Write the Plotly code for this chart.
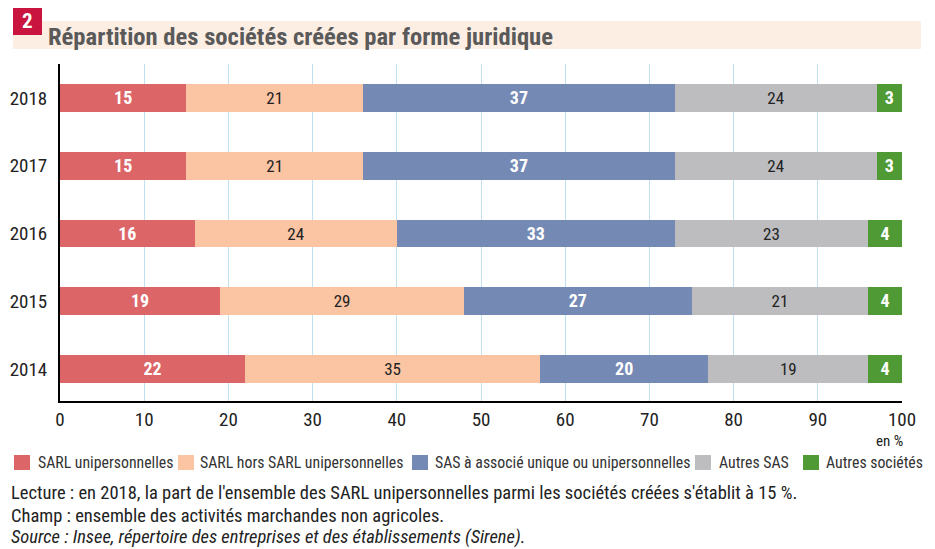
import plotly.graph_objects as go

# data
years = ["2014", "2015", "2016", "2017", "2018"]
series_names = [
    "SARL unipersonnelles",
    "SARL hors SARL unipersonnelles",
    "SAS à associé unique ou unipersonnelles",
    "Autres SAS",
    "Autres sociétés",
]
sarl_uni = [22, 19, 16, 15, 15]
sarl_hors = [35, 29, 24, 21, 21]
sas_uni = [20, 27, 33, 37, 37]
autres_sas = [19, 21, 23, 24, 24]
autres_soc = [4, 4, 4, 3, 3]
x_ticks = [0, 10, 20, 30, 40, 50, 60, 70, 80, 90, 100]

values = [sarl_uni, sarl_hors, sas_uni, autres_sas, autres_soc]
colors = ["#DC6567", "#FBC4A2", "#7589B5", "#BDBDC0", "#4F9A35"]
text_styles = [
    dict(color="white", size=19, weight="bold"),
    dict(color="#222222", size=17),
    dict(color="white", size=19, weight="bold"),
    dict(color="#222222", size=17),
    dict(color="white", size=19, weight="bold"),
]
FONT = "Roboto Condensed, Arial Narrow, sans-serif"

# the page body has an 8px margin, so the figure is drawn 8px in from the corner
W, H = 927, 541
L, R, T, B = 52, 33, 56, 148
PW, PH = W - L - R, H - T - B


def px(x):
    # x in reference pixels -> paper coordinate
    return (x - 8 - L) / PW


def py(y):
    # y in reference pixels -> paper coordinate
    return (H - B - (y - 8)) / PH


fig = go.Figure()
for name, vals, col, ts in zip(series_names, values, colors, text_styles):
    fig.add_trace(go.Bar(
        y=years, x=vals, name=name, orientation="h",
        marker=dict(color=col, line=dict(width=0)),
        text=[str(v) for v in vals], textposition="inside",
        insidetextanchor="middle", textangle=0,
        textfont=dict(family=FONT, **ts),
        width=0.41, showlegend=False, hoverinfo="x+name",
    ))

fig.update_layout(
    barmode="stack",
    width=W, height=H,
    margin=dict(l=L, r=R, t=T, b=B),
    paper_bgcolor="white", plot_bgcolor="white",
    font=dict(family=FONT, color="#222222"),
    xaxis=dict(
        range=[0, 100], tickvals=x_ticks, showgrid=True, gridcolor="#BFE0F2",
        gridwidth=1, zeroline=False, showline=True, linecolor="black", linewidth=2,
        ticks="", tickfont=dict(size=19, color="#222222"), fixedrange=True,
        automargin=False,
    ),
    yaxis=dict(
        type="category", range=[-0.47, 4.5], showgrid=False, zeroline=False,
        showline=True, linecolor="black", linewidth=2, ticks="",
        tickfont=dict(size=19, color="#222222"), ticklabelstandoff=7,
        automargin=False,
    ),
    showlegend=False,
)

# title band and number box
fig.add_shape(type="rect", xref="paper", yref="paper",
              x0=px(13), x1=px(921), y0=py(49), y1=py(21),
              fillcolor="#FDEEE3", line_width=0, layer="below")
fig.add_shape(type="rect", xref="paper", yref="paper",
              x0=px(13), x1=px(42), y0=py(35), y1=py(7),
              fillcolor="#C8143F", line_width=0)
fig.add_annotation(xref="paper", yref="paper", x=px(27.5), y=py(21),
                   text="<b>2</b>", showarrow=False, xanchor="center", yanchor="middle",
                   font=dict(size=21, color="white", family=FONT))
fig.add_annotation(xref="paper", yref="paper", x=px(46), y=py(36),
                   text="<b>Répartition des sociétés créées par forme juridique</b>",
                   showarrow=False, xanchor="left", yanchor="middle",
                   font=dict(size=24.6, color="#5A5A5A", family=FONT))

# unit
fig.add_annotation(xref="paper", yref="paper", x=px(905), y=py(441),
                   text="en %", showarrow=False, xanchor="right", yanchor="middle",
                   font=dict(size=15, color="#222222"))

# legend built from series names
legend_x = [14, 178, 412, 695, 803]
legend_tx = [38, 200, 435, 719, 826]
for lx, tx, name, col in zip(legend_x, legend_tx, series_names, colors):
    fig.add_shape(type="rect", xref="paper", yref="paper",
                  x0=px(lx), x1=px(lx + 16),
                  y0=py(470), y1=py(455),
                  fillcolor=col, line_width=0)
    fig.add_annotation(xref="paper", yref="paper", x=px(tx - 2),
                       y=py(463), text=name, showarrow=False,
                       xanchor="left", yanchor="middle",
                       font=dict(size=15.8, color="#333333"))

notes = [
    "Lecture : en 2018, la part de l'ensemble des SARL unipersonnelles parmi les sociétés créées s'établit à 15 %.",
    "Champ : ensemble des activités marchandes non agricoles.",
    "<i>Source : Insee, répertoire des entreprises et des établissements (Sirene).</i>",
]
note_y = [493, 515.5, 537]
for ny, note in zip(note_y, notes):
    fig.add_annotation(xref="paper", yref="paper", x=px(10),
                       y=py(ny), text=note, showarrow=False,
                       xanchor="left", yanchor="middle", height=22, borderpad=0,
                       font=dict(size=18.5, color="#222222"))

fig.write_html("out.html")
